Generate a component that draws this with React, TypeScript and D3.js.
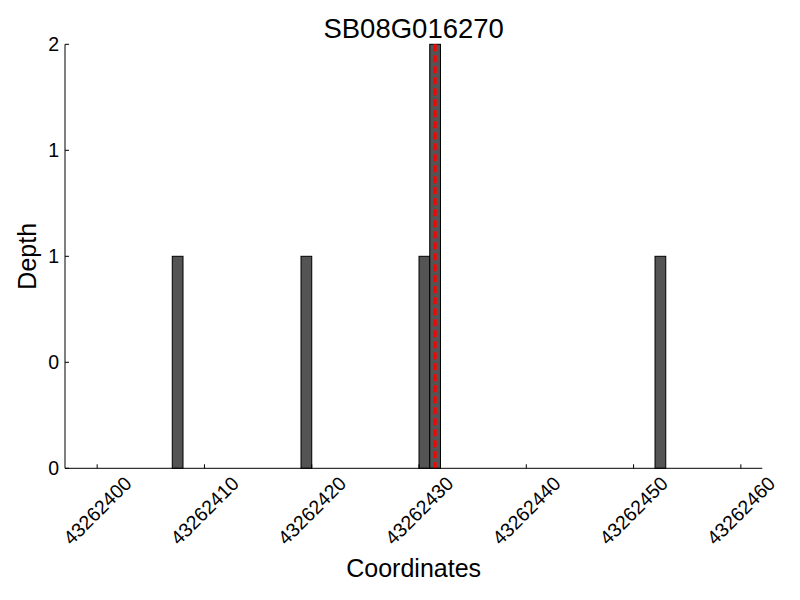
import React from "react";
import * as d3 from "d3";

const title = "SB08G016270";
const positions = [43262407, 43262419, 43262430, 43262431, 43262452];
const depths = [1, 1, 1, 2, 1];
const markerPosition = 43262431.5;
const xTicks = [43262400, 43262410, 43262420, 43262430, 43262440, 43262450, 43262460];
const yTicks = [0, 0.5, 1, 1.5, 2];
const yTickLabels = ["0", "0", "1", "1", "2"];

export default function App() {
  const W = 800, H = 600;
  const left = 65, right = 762.3, top = 44.3, bottom = 468.3;
  const x = d3.scaleLinear().domain([43262397, 43262462]).range([left, right]);
  const y = d3.scaleLinear().domain([0, 2]).range([bottom, top]);
  const font = "'Liberation Sans', Arial, sans-serif";
  return (
    <svg width={W} height={H} style={{ position: "absolute", left: 0, top: 0, background: "#fff" }} fontFamily={font}>
      <rect x={0} y={0} width={W} height={H} fill="#fff" />
      {positions.map((p, i) => (
        <rect key={i} x={x(p)} y={y(depths[i])} width={x(p + 1) - x(p)} height={y(0) - y(depths[i])}
          fill="#545454" stroke="#000" strokeWidth={1} />
      ))}
      <line x1={x(markerPosition)} x2={x(markerPosition)} y1={top} y2={bottom} stroke="#ff0000" strokeWidth={3} strokeDasharray="7,4" />
      <line x1={left} x2={left} y1={top} y2={bottom} stroke="#000" strokeWidth={1} />
      <line x1={left} x2={right} y1={bottom} y2={bottom} stroke="#000" strokeWidth={1} />
      {xTicks.map((t) => (
        <g key={t}>
          <line x1={x(t)} x2={x(t)} y1={bottom} y2={bottom - 4} stroke="#000" strokeWidth={1} />
          <text transform={`translate(${x(t)},${510.5}) rotate(-45)`} textAnchor="middle" dominantBaseline="central" fontSize={19.5}>{t}</text>
        </g>
      ))}
      {yTicks.map((t, i) => (
        <g key={i}>
          <line x1={left} x2={left + 4} y1={y(t)} y2={y(t)} stroke="#000" strokeWidth={1} />
          <text x={59} y={y(t)} textAnchor="end" dominantBaseline="central" fontSize={19.5}>{yTickLabels[i]}</text>
        </g>
      ))}
      <text x={(left + right) / 2} y={28} textAnchor="middle" dominantBaseline="central" fontSize={27.5}>{title}</text>
      <text x={(left + right) / 2} y={568} textAnchor="middle" dominantBaseline="central" fontSize={25}>Coordinates</text>
      <text transform={`translate(27,${(top + bottom) / 2}) rotate(-90)`} textAnchor="middle" dominantBaseline="central" fontSize={25}>Depth</text>
    </svg>
  );
}
